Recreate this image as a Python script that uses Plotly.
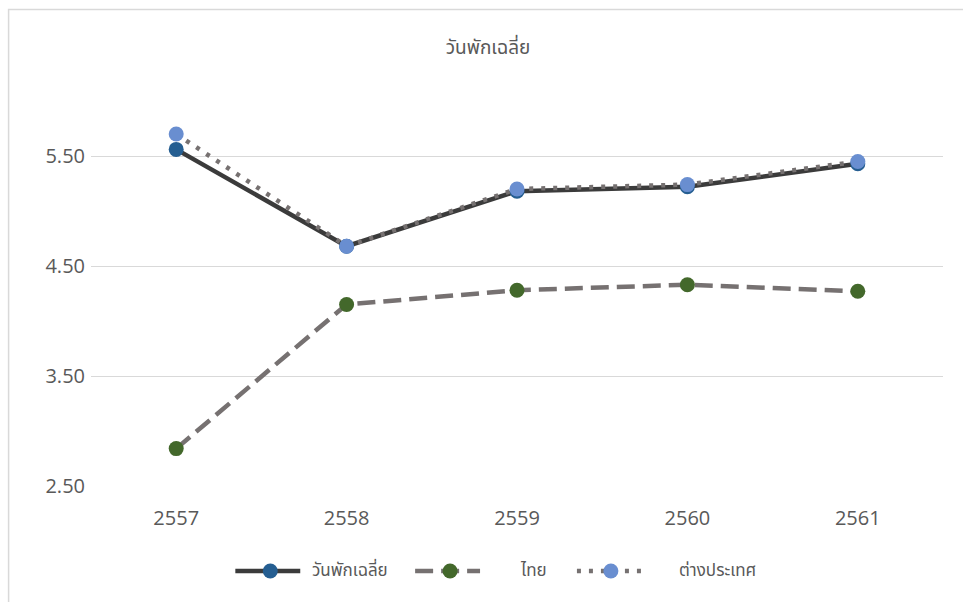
import plotly.graph_objects as go

years = ["2557", "2558", "2559", "2560", "2561"]
avg_stay = [5.56, 4.68, 5.18, 5.22, 5.43]
thai = [2.84, 4.15, 4.28, 4.33, 4.27]
foreign = [5.70, 4.68, 5.20, 5.24, 5.45]
y_ticks = [2.5, 3.5, 4.5, 5.5]
y_labels = ["2.50", "3.50", "4.50", "5.50"]

TXT = "#595959"
FONT = "Noto Sans Thai, Leelawadee UI, Tahoma, Noto Sans, sans-serif"
NUM_FONT = "Open Sans, Noto Sans, sans-serif"

series = [
    dict(name="วันพักเฉลี่ย", y=avg_stay, line="#3b3b3b", dash="solid", marker="#255e91"),
    dict(name="ไทย", y=thai, line="#767171", dash="18px,8px", marker="#43682b"),
    dict(name="ต่างประเทศ", y=foreign, line="#767171", dash="4px,8px", marker="#698ed0"),
]

fig = go.Figure()
for s in series:
    fig.add_trace(go.Scatter(
        x=years, y=s["y"], name=s["name"], mode="lines+markers",
        line=dict(color=s["line"], width=4.5, dash=s["dash"]),
        marker=dict(color=s["marker"], size=15),
        showlegend=False,
    ))

PLOT_L, PLOT_W, PLOT_B, PLOT_H = 90.5, 853, 486, 406


def px_x(x):
    return (x - PLOT_L) / PLOT_W


def px_y(y):
    return (PLOT_B - y) / PLOT_H


# legend row: (line start, line end, marker centre, label left) in pixels
legend_slots = [(235, 300, 270, 310), (415, 480, 450, 518), (577, 642, 611, 677)]
LEG_Y = 571
shapes = []
annotations = []
for s, (a, b, m, t) in zip(series, legend_slots):
    shapes.append(dict(type="line", xref="paper", yref="paper",
                       x0=px_x(a), x1=px_x(b), y0=px_y(LEG_Y), y1=px_y(LEG_Y),
                       line=dict(color=s["line"], width=4.5, dash=s["dash"])))
    shapes.append(dict(type="circle", xref="paper", yref="paper",
                       xsizemode="pixel", ysizemode="pixel",
                       xanchor=px_x(m), yanchor=px_y(LEG_Y),
                       x0=-7.5, x1=7.5, y0=-7.5, y1=7.5,
                       fillcolor=s["marker"], line=dict(width=0)))
    annotations.append(dict(text=s["name"], xref="paper", yref="paper",
                            x=px_x(t), y=px_y(LEG_Y), xanchor="left", yanchor="middle",
                            showarrow=False, font=dict(size=17, color=TXT, family=FONT)))

# chart frame (top and left edges visible)
shapes.append(dict(type="rect", xref="paper", yref="paper",
                   x0=px_x(8), x1=1.2, y0=-0.5, y1=px_y(9.5),
                   line=dict(color="#d9d9d9", width=1.5), layer="below"))

fig.update_layout(
    width=963, height=602,
    margin=dict(l=PLOT_L, r=963 - PLOT_L - PLOT_W, t=PLOT_B - PLOT_H, b=602 - PLOT_B),
    paper_bgcolor="white", plot_bgcolor="white",
    font=dict(family=FONT, color=TXT, size=16),
    title=dict(text="วันพักเฉลี่ย", x=488 / 963, xanchor="center", y=1 - 47 / 602,
               yanchor="middle", font=dict(size=19, color=TXT)),
    xaxis=dict(type="category", range=[-0.5, 4.5], showgrid=False,
               showline=False, zeroline=False, ticks="", ticklabelstandoff=18,
               tickfont=dict(size=20, color=TXT, family=NUM_FONT)),
    yaxis=dict(range=[2.5, 2.5 + PLOT_H / 110], tickvals=y_ticks, ticktext=y_labels,
               showgrid=True, gridcolor="#d9d9d9", gridwidth=1.3,
               zeroline=False, showline=False, ticks="", ticklabelstandoff=5,
               tickfont=dict(size=20, color=TXT, family=NUM_FONT)),
    shapes=shapes,
    annotations=annotations,
    showlegend=False,
)

fig.write_html("out.html")
